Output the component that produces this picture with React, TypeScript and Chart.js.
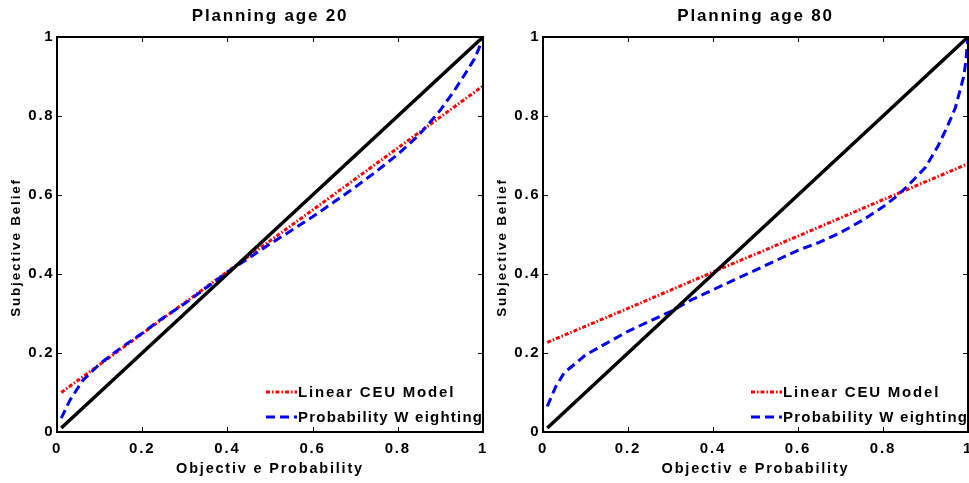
import React, { useEffect, useRef } from 'react';
import { Chart, registerables } from 'chart.js';

Chart.register(...registerables);

const FONT = '"Liberation Sans", Arial, Helvetica, sans-serif';
const SPACING = '1.8px';

// ---- text ----
const TITLES = ['Planning age 20', 'Planning age 80'];
const X_TITLE = 'Objectiv e Probability';
const Y_TITLE = 'Subjective Belief';
const LEGEND_LABELS = ['Linear CEU Model', 'Probability W eighting'];

// ---- ticks ----
const TICK_VALUES = [0, 0.2, 0.4, 0.6, 0.8, 1];
const TICK_LABELS = ['0', '0.2', '0.4', '0.6', '0.8', '1'];

// ---- black 45-degree reference line ----
const DIAG_X = [0.01, 1];
const DIAG_Y = [0.01, 1];

// ---- Linear CEU model (red) ----
const RED_X = [0.01, 0.2, 0.4, 0.6, 0.8, 1.0];
const RED_Y_AGE20 = [0.1, 0.249, 0.406, 0.562, 0.719, 0.876];
const RED_Y_AGE80 = [0.227, 0.313, 0.405, 0.496, 0.588, 0.679];

// ---- Probability weighting (blue) ----
const BLUE_X_AGE20 = [0.01, 0.03, 0.06, 0.1, 0.15, 0.2, 0.25, 0.3, 0.35, 0.4, 0.45, 0.5, 0.55, 0.6, 0.65, 0.7, 0.75, 0.8, 0.85, 0.9, 0.93, 0.96, 0.98, 0.99, 1.0];
const BLUE_Y_AGE20 = [0.035, 0.08, 0.13, 0.172, 0.213, 0.25, 0.29, 0.325, 0.365, 0.405, 0.44, 0.476, 0.51, 0.545, 0.582, 0.62, 0.66, 0.703, 0.752, 0.815, 0.86, 0.91, 0.945, 0.97, 1.0];
const BLUE_X_AGE80 = [0.01, 0.03, 0.05, 0.1, 0.15, 0.2, 0.25, 0.3, 0.35, 0.4, 0.45, 0.5, 0.55, 0.6, 0.65, 0.7, 0.75, 0.8, 0.83, 0.86, 0.9, 0.93, 0.95, 0.97, 0.98, 0.99, 0.995, 1.0];
const BLUE_Y_AGE80 = [0.065, 0.115, 0.15, 0.195, 0.225, 0.255, 0.28, 0.305, 0.335, 0.36, 0.385, 0.41, 0.435, 0.46, 0.48, 0.505, 0.535, 0.57, 0.595, 0.625, 0.67, 0.725, 0.77, 0.82, 0.86, 0.9, 0.94, 1.0];

const pts = (xs: number[], ys: number[]) => xs.map((x, i) => ({ x, y: ys[i] }));

const spacingPlugin = {
  id: 'letterSpacing',
  beforeLayout(chart: any) {
    chart.ctx.letterSpacing = SPACING;
  },
  beforeDraw(chart: any) {
    chart.ctx.letterSpacing = SPACING;
  },
};

const framePlugin = {
  id: 'boxFrame',
  afterDatasetsDraw(chart: any) {
    const { ctx, chartArea } = chart;
    const { left, right, top, bottom } = chartArea;
    const xs = chart.scales.x;
    const ys = chart.scales.y;
    const L = 5;
    ctx.save();
    ctx.strokeStyle = '#111';
    ctx.lineWidth = 1;
    ctx.beginPath();
    xs.ticks.forEach((t: any) => {
      const px = Math.round(xs.getPixelForValue(t.value)) + 0.5;
      ctx.moveTo(px, bottom);
      ctx.lineTo(px, bottom - L);
      ctx.moveTo(px, top);
      ctx.lineTo(px, top + L);
    });
    ys.ticks.forEach((t: any) => {
      const py = Math.round(ys.getPixelForValue(t.value)) + 0.5;
      ctx.moveTo(left, py);
      ctx.lineTo(left + L, py);
      ctx.moveTo(right, py);
      ctx.lineTo(right - L, py);
    });
    ctx.stroke();
    ctx.strokeStyle = '#000';
    ctx.lineWidth = 2;
    ctx.strokeRect(left, top, right - left, bottom - top);
    ctx.restore();
  },
};

// y-axis title, drawn beside the axis (slightly below the axis centre, as in the source)
const yTitlePlugin = {
  id: 'yTitle',
  afterDraw(chart: any) {
    const { ctx, chartArea } = chart;
    ctx.save();
    ctx.translate(16, (chartArea.top + chartArea.bottom) / 2 + 13);
    ctx.rotate(-Math.PI / 2);
    ctx.font = `bold 13.5px ${FONT}`;
    ctx.fillStyle = '#000';
    ctx.textAlign = 'center';
    ctx.textBaseline = 'middle';
    ctx.fillText(Y_TITLE, 0, 0);
    ctx.restore();
  },
};

const legendPlugin = {
  id: 'innerLegend',
  afterDraw(chart: any) {
    const { ctx, chartArea } = chart;
    const avail = 185;
    const textX = chartArea.right - avail;
    chart.data.datasets.forEach((d: any) => {
      if (d.legendRow === undefined) return;
      const y = chartArea.bottom - (d.legendRow === 0 ? 40 : 15);
      ctx.save();
      ctx.strokeStyle = d.borderColor;
      ctx.lineWidth = d.borderWidth;
      ctx.lineCap = 'butt';
      ctx.setLineDash(d.borderDash || []);
      ctx.beginPath();
      ctx.moveTo(textX - 32, y);
      ctx.lineTo(textX - 1, y);
      ctx.stroke();
      ctx.setLineDash([]);
      ctx.font = `bold 15px ${FONT}`;
      ctx.letterSpacing = '0px';
      const w0 = ctx.measureText(d.label).width;
      const n = d.label.length;
      const sp = Math.min(1.8, Math.max(0, (avail - 1 - w0) / (n - 1)));
      ctx.letterSpacing = `${sp.toFixed(2)}px`;
      ctx.fillStyle = '#000';
      ctx.textAlign = 'left';
      ctx.textBaseline = 'middle';
      ctx.fillText(d.label, textX, y + 1);
      ctx.restore();
    });
  },
};

type PanelDef = {
  title: string;
  redY: number[];
  blueX: number[];
  blueY: number[];
  padRight: number;
};

const PANELS: PanelDef[] = [
  { title: TITLES[0], redY: RED_Y_AGE20, blueX: BLUE_X_AGE20, blueY: BLUE_Y_AGE20, padRight: 3 },
  { title: TITLES[1], redY: RED_Y_AGE80, blueX: BLUE_X_AGE80, blueY: BLUE_Y_AGE80, padRight: 11 },
];

function makeConfig(p: PanelDef): any {
  const tickFont = { family: FONT, size: 15, weight: 'bold' as const };
  return {
    type: 'line',
    data: {
      datasets: [
        {
          label: LEGEND_LABELS[0],
          legendRow: 0,
          data: pts(RED_X, p.redY),
          borderColor: '#ff0000',
          borderWidth: 3,
          borderDash: [4, 2, 1.5, 2],
          order: 2,
        },
        {
          label: LEGEND_LABELS[1],
          legendRow: 1,
          data: pts(p.blueX, p.blueY),
          borderColor: '#0000ff',
          borderWidth: 3,
          borderDash: [9, 5],
          order: 1,
        },
        {
          label: '45 degree line',
          data: pts(DIAG_X, DIAG_Y),
          borderColor: '#000000',
          borderWidth: 3.5,
          order: 0,
        },
      ],
    },
    options: {
      animation: false,
      responsive: false,
      clip: false,
      elements: {
        point: { radius: 0, hoverRadius: 0 },
        line: { tension: 0, borderCapStyle: 'butt', fill: false },
      },
      layout: { autoPadding: false, padding: { left: 0, right: p.padRight, top: 0, bottom: 0 } },
      plugins: {
        legend: { display: false },
        tooltip: { enabled: false },
        title: {
          display: true,
          text: p.title,
          fullSize: false,
          color: '#000',
          font: { family: FONT, size: 17, weight: 'bold', lineHeight: 1.2 },
          padding: { top: 6, bottom: 10.6 },
        },
      },
      scales: {
        x: {
          type: 'linear',
          position: 'bottom',
          min: 0,
          max: 1,
          afterBuildTicks: (s: any) => {
            s.ticks = TICK_VALUES.map((v) => ({ value: v }));
          },
          afterFit: (s: any) => {
            s.height = 51;
            s.paddingLeft = 0;
            s.paddingRight = 0;
          },
          grid: { display: false, drawTicks: false },
          border: { display: false },
          ticks: {
            callback: (_v: any, i: number) => TICK_LABELS[i],
            color: '#000',
            font: tickFont,
            padding: 8,
            maxRotation: 0,
            autoSkip: false,
          },
          title: {
            display: true,
            text: X_TITLE,
            color: '#000',
            font: { family: FONT, size: 14.5, weight: 'bold', lineHeight: 1.2 },
            padding: { top: 0, bottom: 5 },
          },
        },
        y: {
          type: 'linear',
          position: 'left',
          min: 0,
          max: 1,
          afterBuildTicks: (s: any) => {
            s.ticks = TICK_VALUES.map((v) => ({ value: v }));
          },
          afterFit: (s: any) => {
            s.width = 57;
            s.paddingTop = 0;
            s.paddingBottom = 0;
          },
          grid: { display: false, drawTicks: false },
          border: { display: false },
          ticks: {
            callback: (_v: any, i: number) => TICK_LABELS[i],
            color: '#000',
            font: tickFont,
            padding: 2.5,
            autoSkip: false,
          },
          title: { display: false },
        },
      },
    },
    plugins: [spacingPlugin, framePlugin, legendPlugin, yTitlePlugin],
  };
}

function Panel({ def, left, width }: { def: PanelDef; left: number; width: number }) {
  const ref = useRef<HTMLCanvasElement | null>(null);
  useEffect(() => {
    if (!ref.current) return;
    const chart = new Chart(ref.current, makeConfig(def));
    return () => chart.destroy();
  }, [def]);
  return (
    <div style={{ position: 'absolute', left, top: 0, width, height: 483 }}>
      <canvas ref={ref} width={width} height={483} style={{ display: 'block', width, height: 483 }} />
    </div>
  );
}

export default function App() {
  return (
    <div
      style={{
        position: 'fixed',
        left: 0,
        top: 0,
        width: 969,
        height: 483,
        overflow: 'hidden',
        background: '#fff',
      }}
    >
      <Panel def={PANELS[0]} left={0} width={486} />
      <Panel def={PANELS[1]} left={486} width={493} />
    </div>
  );
}
